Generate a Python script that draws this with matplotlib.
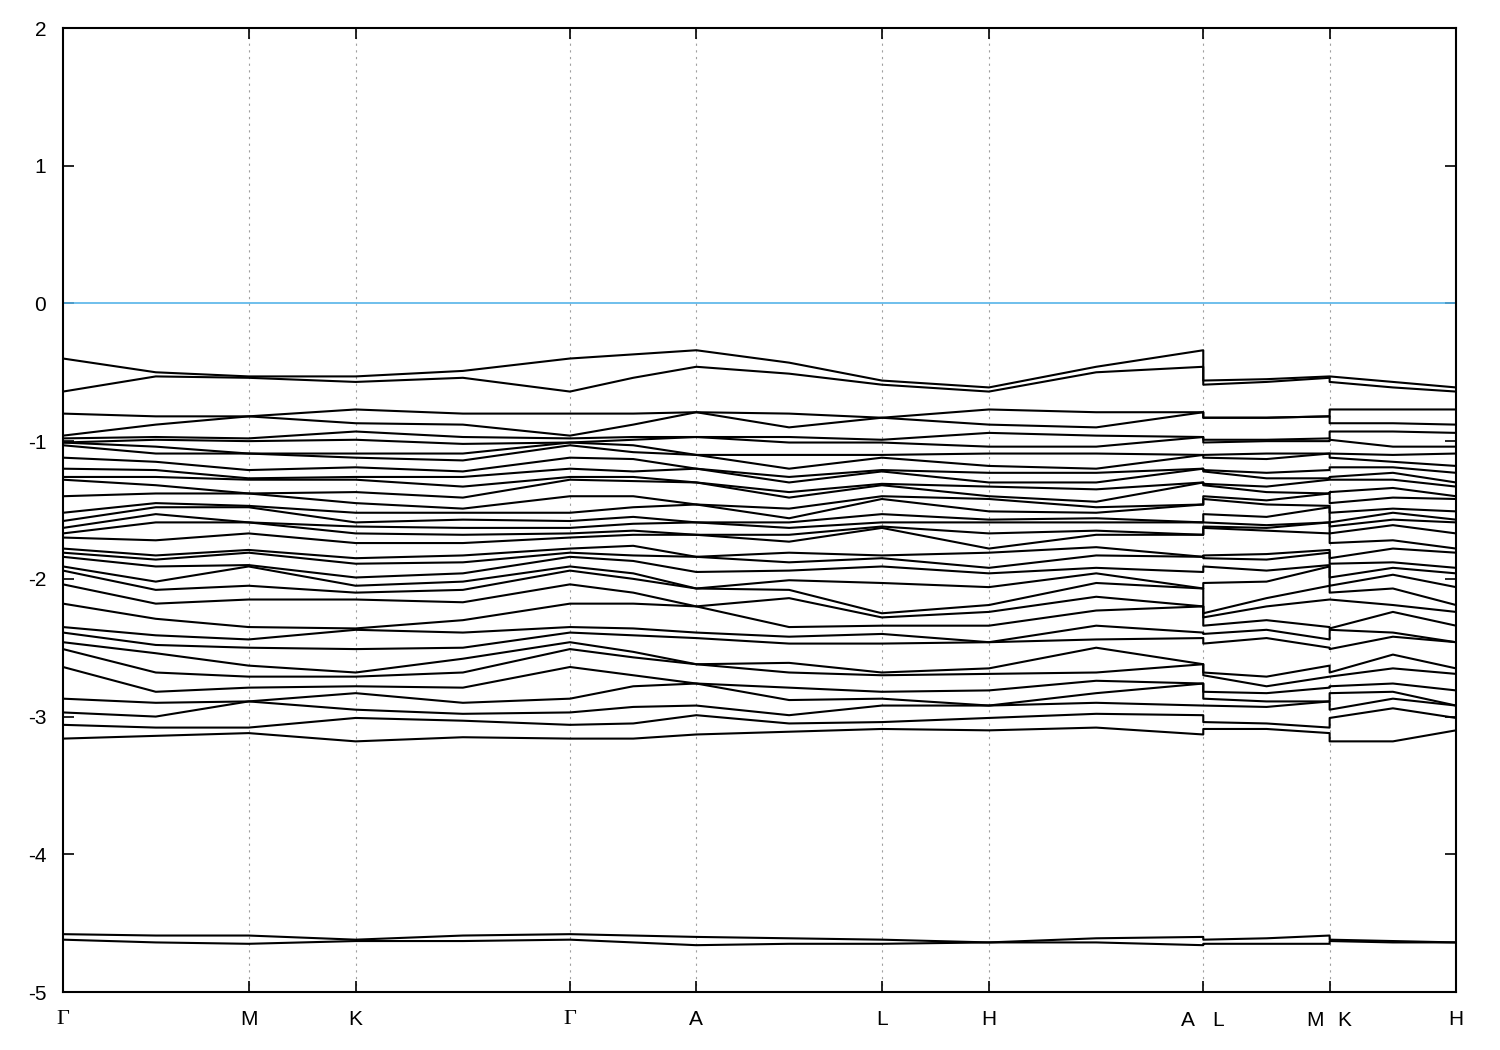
import numpy as np
import matplotlib.pyplot as plt
from matplotlib import transforms

plt.rcParams['axes.unicode_minus'] = False

# high-symmetry points along the path (distance along k-path)
k_labels = ['Γ', 'M', 'K', 'Γ', 'A', 'L', 'H', 'A|L', 'M|K', 'H']
k_dist = [0.0, 1.0, 1.577, 2.732, 3.413, 4.413, 4.990, 6.145, 6.826, 7.507]

# band energies (eV) at the high-symmetry points, sorted from top
e_G = [-0.40, -0.64, -0.80, -0.96, -0.98, -1.01, -1.01, -1.03, -1.12, -1.20, -1.26, -1.28,
       -1.40, -1.52, -1.58, -1.63, -1.67, -1.70, -1.78, -1.81, -1.84, -1.91, -1.94, -2.04,
       -2.18, -2.35, -2.39, -2.46, -2.51, -2.64, -2.87, -2.97, -3.06, -3.16, -4.58, -4.62]
e_M = [-0.53, -0.54, -0.82, -0.82, -0.98, -1.00, -1.09, -1.09, -1.21, -1.27, -1.28, -1.38,
       -1.38, -1.47, -1.48, -1.59, -1.59, -1.67, -1.79, -1.81, -1.90, -1.91, -2.05, -2.15,
       -2.35, -2.44, -2.50, -2.63, -2.71, -2.79, -2.89, -2.89, -3.08, -3.12, -4.59, -4.65]
e_K = [-0.53, -0.57, -0.77, -0.87, -0.93, -0.99, -1.09, -1.12, -1.19, -1.26, -1.28, -1.37,
       -1.45, -1.52, -1.59, -1.62, -1.67, -1.74, -1.85, -1.89, -1.99, -2.05, -2.10, -2.15,
       -2.36, -2.37, -2.51, -2.68, -2.71, -2.78, -2.83, -2.95, -3.01, -3.18, -4.62, -4.63]
e_A = [-0.34, -0.46, -0.79, -0.79, -0.97, -0.97, -1.10, -1.10, -1.20, -1.20, -1.30, -1.30,
       -1.46, -1.46, -1.59, -1.59, -1.68, -1.68, -1.84, -1.84, -1.95, -2.07, -2.07, -2.20,
       -2.20, -2.39, -2.43, -2.62, -2.62, -2.76, -2.76, -2.92, -2.99, -3.13, -4.60, -4.66]
e_L = [-0.56, -0.59, -0.83, -0.83, -0.99, -1.01, -1.10, -1.12, -1.21, -1.22, -1.31, -1.32,
       -1.40, -1.42, -1.53, -1.59, -1.62, -1.63, -1.83, -1.85, -1.91, -2.03, -2.25, -2.28,
       -2.34, -2.40, -2.47, -2.68, -2.70, -2.82, -2.87, -2.92, -3.04, -3.09, -4.62, -4.65]
e_H = [-0.61, -0.64, -0.77, -0.88, -0.94, -1.04, -1.09, -1.18, -1.23, -1.30, -1.33, -1.40,
       -1.42, -1.51, -1.57, -1.59, -1.67, -1.78, -1.81, -1.92, -1.96, -2.06, -2.19, -2.24,
       -2.34, -2.46, -2.46, -2.65, -2.69, -2.81, -2.92, -2.92, -3.01, -3.10, -4.64, -4.64]

# band energies at the middle of some segments
e_GM = [-0.50, -0.53, -0.82, -0.88, -0.97, -0.99, -1.04, -1.09, -1.15, -1.21, -1.26, -1.32,
        -1.38, -1.45, -1.48, -1.53, -1.59, -1.72, -1.83, -1.86, -1.91, -2.02, -2.08, -2.18,
        -2.29, -2.41, -2.48, -2.54, -2.68, -2.82, -2.90, -3.00, -3.08, -3.14, -4.59, -4.64]
e_KG = [-0.49, -0.54, -0.80, -0.88, -0.97, -1.02, -1.09, -1.14, -1.22, -1.26, -1.33, -1.41,
        -1.49, -1.52, -1.57, -1.63, -1.68, -1.74, -1.83, -1.88, -1.96, -2.02, -2.08, -2.17,
        -2.30, -2.39, -2.50, -2.58, -2.68, -2.79, -2.90, -2.98, -3.03, -3.15, -4.59, -4.63]
e_GA = [-0.37, -0.54, -0.80, -0.88, -0.97, -0.99, -1.03, -1.08, -1.13, -1.22, -1.26, -1.29,
        -1.40, -1.48, -1.55, -1.60, -1.65, -1.68, -1.76, -1.83, -1.87, -1.96, -2.00, -2.10,
        -2.18, -2.36, -2.41, -2.53, -2.57, -2.70, -2.78, -2.93, -3.05, -3.16, -4.59, -4.64]
e_AL = [-0.43, -0.51, -0.80, -0.90, -0.97, -1.01, -1.10, -1.20, -1.26, -1.30, -1.37, -1.41,
        -1.49, -1.56, -1.59, -1.63, -1.68, -1.73, -1.81, -1.88, -1.94, -2.01, -2.08, -2.14,
        -2.35, -2.42, -2.47, -2.61, -2.68, -2.79, -2.88, -2.99, -3.05, -3.11, -4.61, -4.65]
e_HA = [-0.46, -0.50, -0.79, -0.90, -0.96, -1.04, -1.09, -1.20, -1.23, -1.30, -1.35, -1.44,
        -1.48, -1.52, -1.56, -1.59, -1.65, -1.68, -1.77, -1.83, -1.92, -1.96, -2.03, -2.13,
        -2.23, -2.34, -2.44, -2.50, -2.68, -2.74, -2.83, -2.90, -2.98, -3.08, -4.61, -4.64]
e_LM = [-0.55, -0.57, -0.83, -0.83, -0.99, -1.00, -1.09, -1.13, -1.23, -1.27, -1.33, -1.37,
        -1.43, -1.46, -1.55, -1.61, -1.63, -1.65, -1.82, -1.86, -1.94, -2.02, -2.14, -2.20,
        -2.30, -2.37, -2.43, -2.71, -2.78, -2.83, -2.89, -2.93, -3.05, -3.09, -4.61, -4.65]
e_KH = [-0.57, -0.61, -0.77, -0.87, -0.93, -1.04, -1.10, -1.15, -1.19, -1.23, -1.28, -1.34,
        -1.41, -1.49, -1.52, -1.57, -1.61, -1.72, -1.78, -1.88, -1.92, -1.97, -2.07, -2.19,
        -2.24, -2.39, -2.42, -2.55, -2.65, -2.76, -2.82, -2.87, -2.94, -3.18, -4.63, -4.64]

points = {'G': e_G, 'M': e_M, 'K': e_K, 'A': e_A, 'L': e_L, 'H': e_H,
          'GM': e_GM, 'KG': e_KG, 'GA': e_GA, 'AL': e_AL, 'HA': e_HA,
          'LM': e_LM, 'KH': e_KH}

# the whole path; jumps (A|L, M|K) repeat the same distance
path_names = ['G', 'GM', 'M', 'K', 'KG', 'G', 'GA', 'A', 'AL', 'L', 'H', 'HA', 'A',
              'L', 'LM', 'M', 'K', 'KH', 'H']
path_x = [0.0, 0.5, 1.0, 1.577, 2.155, 2.732, 3.073, 3.413, 3.913, 4.413, 4.990, 5.568,
          6.145, 6.145, 6.486, 6.826, 6.826, 7.167, 7.507]

fig = plt.figure(figsize=(15, 10.5), dpi=100)
ax = fig.add_axes([63 / 1500, 58 / 1050, 1393 / 1500, 964 / 1050])

bands = np.array([points[n] for n in path_names])
for i in range(bands.shape[1]):
    ax.plot(path_x, bands[:, i], color='black', lw=1.5)

ax.axhline(0, color='#56b4e9', lw=1.2)
for x in k_dist[1:-1]:
    ax.axvline(x, color='#a0a0a0', lw=0.8, ls=(0, (2, 4)), zorder=0)

ax.set_xlim(k_dist[0], k_dist[-1])
ax.set_ylim(-5, 2)
ax.set_yticks(range(-5, 3))

ticklabels = ['' if '|' in s else s for s in k_labels]
ax.set_xticks(k_dist)
ax.set_xticklabels(ticklabels)

ax.tick_params(direction='in', length=8, width=1.2, labelsize=15, pad=13,
               top=True, right=True)
ax.tick_params(axis='y', pad=12)
for lbl in ax.get_yticklabels() + ax.get_xticklabels():
    if lbl.get_text() == 'Γ':
        lbl.set_fontfamily('Liberation Serif')
        lbl.set_fontsize(16)
    else:
        lbl.set_fontfamily('Liberation Sans')

base = transforms.blended_transform_factory(ax.transData, ax.transAxes)
for x, s in zip(k_dist, k_labels):
    if '|' in s:
        left, right = s.split('|')
        for txt, dx in ((left, -15), (right, 15)):
            tr = base + transforms.ScaledTranslation(dx / 100, -19 / 100, fig.dpi_scale_trans)
            ax.text(x, 0, txt, transform=tr, ha='center', va='top',
                    fontsize=15, family='Liberation Sans')

for sp in ax.spines.values():
    sp.set_linewidth(1.5)

fig.savefig('out.png', dpi=100)
